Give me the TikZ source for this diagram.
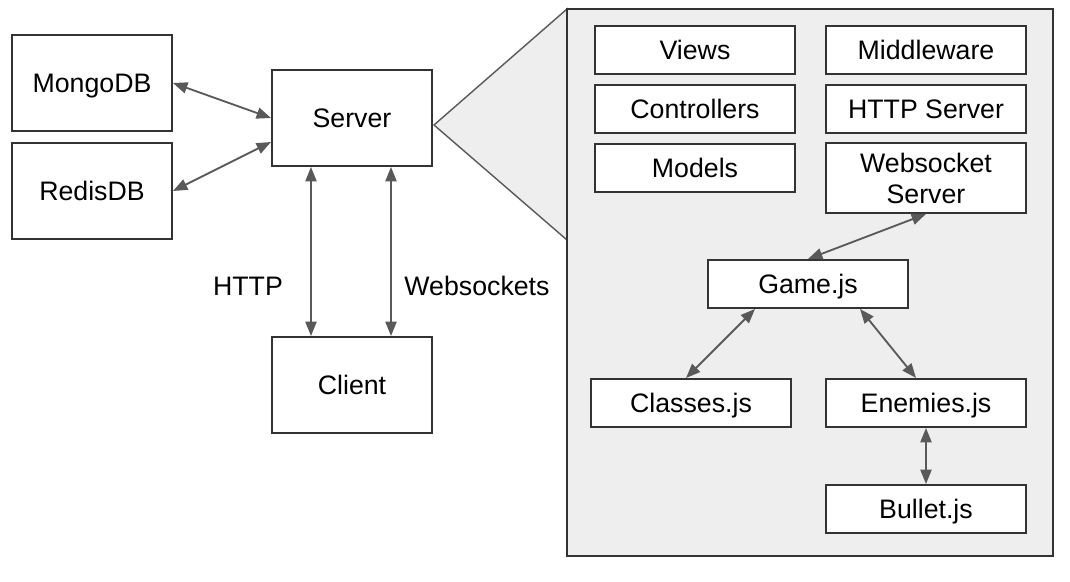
\documentclass[tikz,border=0pt]{standalone}
\usepackage{fontspec}
\setmainfont{Liberation Sans}
\usetikzlibrary{arrows.meta}
\definecolor{panelgray}{HTML}{EEEEEE}
\definecolor{edgegray}{HTML}{595959}
\definecolor{boxline}{HTML}{333333}
\tikzset{
  box/.style={draw=boxline, line width=1.4pt, fill=white, inner sep=0pt, align=center,
    font=\fontsize{19}{22}\selectfont},
  oneline/.style={text height=13pt, text depth=0pt},
  bigbox/.style={box, oneline, minimum width=4cm, minimum height=2.4cm},
  modbox/.style={box, oneline, minimum width=5cm, minimum height=1.2cm},
  link/.style={draw=edgegray, line width=1.3pt,
    {Triangle[length=0.36cm,width=0.28cm]}-{Triangle[length=0.36cm,width=0.28cm]}},
  lbl/.style={font=\fontsize{19}{22}\selectfont}
}
\begin{document}
\begin{tikzpicture}[x=0.025cm, y=-0.025cm]
  \useasboundingbox (0,0) rectangle (1070,582);

  % zoom panel
  \draw[edgegray, line width=1pt, fill=panelgray] (434,125) -- (567,9) -- (567,240) -- cycle;
  \draw[boxline, line width=1.2pt, fill=panelgray] (567,9) rectangle (1053,556);

  % left side
  \node[bigbox] (mongo) at (92,83) {MongoDB};
  \node[bigbox] (redis) at (92,191) {RedisDB};
  \node[bigbox] (server) at (352,118) {Server};
  \node[bigbox] (client) at (352,385) {Client};

  \draw[link] (mongo.east) -- (server.west);
  \draw[link] (redis.east) -- ([yshift=-0.6cm]server.west);
  \draw[link] ([xshift=-1.025cm]server.south) -- ([xshift=-1.025cm]client.north);
  \draw[link] ([xshift=0.975cm]server.south) -- ([xshift=0.975cm]client.north);
  \node[lbl] (http) at (248,286) {HTTP};
  \node[lbl] (ws) at (477,286) {Websockets};

  % server internals
  \node[modbox] (views) at (695,50) {Views};
  \node[modbox] (ctrl) at (695,109) {Controllers};
  \node[modbox] (models) at (695,168) {Models};
  \node[modbox] (mid) at (926,50) {Middleware};
  \node[modbox] (httpsrv) at (926,109) {HTTP Server};
  \node[box, minimum width=5cm, minimum height=1.75cm] (wssrv) at (926,178) {Websocket\\Server};
  \node[modbox] (game) at (808,284) {Game.js};
  \node[modbox] (classes) at (691,403) {Classes.js};
  \node[modbox] (enemies) at (926,403) {Enemies.js};
  \node[modbox] (bullet) at (926,509) {Bullet.js};

  \draw[link] (wssrv.south) -- (game.north);
  \draw[link] ([xshift=-1.325cm]game.south) -- ([xshift=-0.125cm]classes.north);
  \draw[link] ([xshift=1.3cm]game.south) -- ([xshift=-0.25cm]enemies.north);
  \draw[link] (enemies.south) -- (bullet.north);
\end{tikzpicture}
\end{document}
